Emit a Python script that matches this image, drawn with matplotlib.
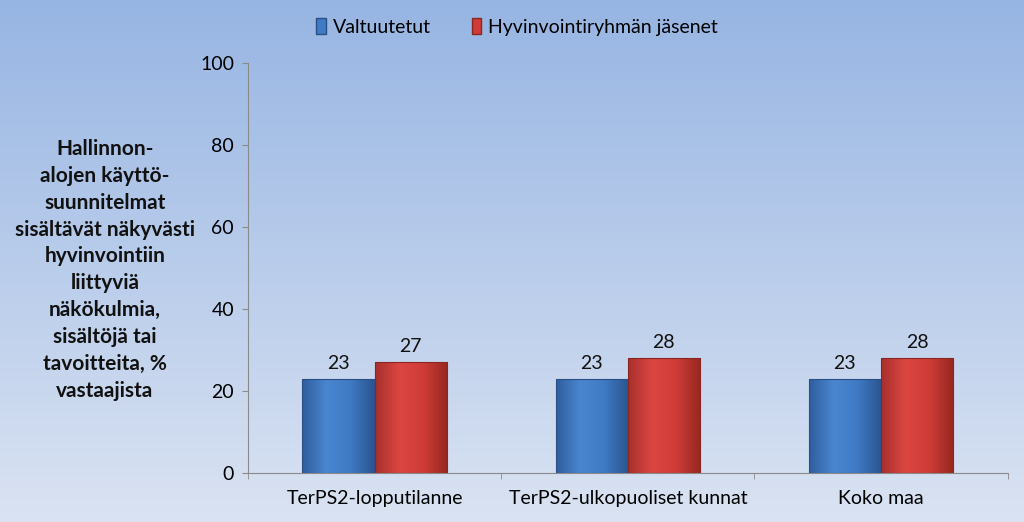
import matplotlib.pyplot as plt
import numpy as np
from matplotlib.colors import LinearSegmentedColormap
from matplotlib.patches import Patch

# data
categories = ["TerPS2-lopputilanne", "TerPS2-ulkopuoliset kunnat", "Koko maa"]
series_names = ["Valtuutetut", "Hyvinvointiryhmän jäsenet"]
valtuutetut = [23, 23, 23]
hyvinvointi = [27, 28, 28]
yticks = [0, 20, 40, 60, 80, 100]
ylabel = ("Hallinnon-\nalojen käyttö-\nsuunnitelmat\nsisältävät näkyvästi\n"
          "hyvinvointiin\nliittyviä\nnäkökulmia,\nsisältöjä tai\ntavoitteita, %\nvastaajista")

plt.rcParams['font.family'] = ['Lato', 'DejaVu Sans']

fig = plt.figure(figsize=(10.24, 5.22), dpi=100)

# background gradient (darker blue on top)
bg = fig.add_axes([0, 0, 1, 1], zorder=-10)
bg_cmap = LinearSegmentedColormap.from_list("bg", [(0.855, 0.890, 0.950), (0.592, 0.710, 0.890)])
bg.imshow(np.linspace(0, 1, 256).reshape(-1, 1), aspect="auto", cmap=bg_cmap,
          origin="lower", extent=[0, 1, 0, 1])
bg.axis("off")

ax = fig.add_axes([0.2422, 0.0939, 0.7418, 0.7854])
ax.patch.set_alpha(0)

x = np.arange(len(categories))
w = 0.285
blue_cmap = LinearSegmentedColormap.from_list("b", ["#2f5e9e", "#4a86d0", "#3f7ac4", "#2a5590"])
red_cmap = LinearSegmentedColormap.from_list("r", ["#a8302c", "#dc4642", "#cf3c38", "#96281f"])

def shaded_bars(xs, vals, cmap, edge):
    bars = ax.bar(xs, vals, w, color="none", edgecolor=edge, linewidth=0.8, zorder=3)
    for b in bars:
        x0, y0 = b.get_x(), b.get_y()
        im = ax.imshow(np.linspace(0, 1, 64).reshape(1, -1), cmap=cmap, aspect="auto",
                       extent=[x0, x0 + b.get_width(), y0, y0 + b.get_height()], zorder=2)
        im.set_clip_path(b)
    return bars

b1 = shaded_bars(x - w / 2, valtuutetut, blue_cmap, "#2a4f85")
b2 = shaded_bars(x + w / 2, hyvinvointi, red_cmap, "#8a2620")

for bars, vals in [(b1, valtuutetut), (b2, hyvinvointi)]:
    for b, v in zip(bars, vals):
        ax.annotate(str(v), (b.get_x() + b.get_width() / 2, b.get_height()),
                    xytext=(0, 5), textcoords="offset points", ha="center", va="bottom",
                    fontsize=14, color="#111111")

ax.set_ylim(0, 100)
ax.set_yticks(yticks)
ax.set_xticks(x)
ax.set_xticklabels(categories, fontsize=14)
ax.set_xticks(np.arange(len(categories) + 1) - 0.5, minor=True)
ax.tick_params(axis="x", which="major", length=0, pad=12)
ax.tick_params(axis="x", which="minor", length=4, color="#8a8a8a", direction="out")
ax.tick_params(axis="y", labelsize=14, length=4, color="#8a8a8a", pad=6)
ax.set_xlim(-0.5, len(categories) - 0.5)
for s in ["top", "right"]:
    ax.spines[s].set_visible(False)
for s in ["left", "bottom"]:
    ax.spines[s].set_color("#8a8a8a")

fig.text(0.1025, 0.483, ylabel, ha="center", va="center", fontsize=15, fontweight="bold",
         linespacing=1.43, color="#111111")

# legend
handles = [Patch(facecolor="#3f7ac4", edgecolor="#2a4f85"),
           Patch(facecolor="#cf3c38", edgecolor="#8a2620")]
fig.legend(handles, series_names, loc="center", bbox_to_anchor=(0.505, 0.948), ncol=2,
           frameon=False, fontsize=14, handlelength=0.5, handleheight=0.85,
           handletextpad=0.35, columnspacing=2.1)

fig.savefig("out.png", dpi=100)
